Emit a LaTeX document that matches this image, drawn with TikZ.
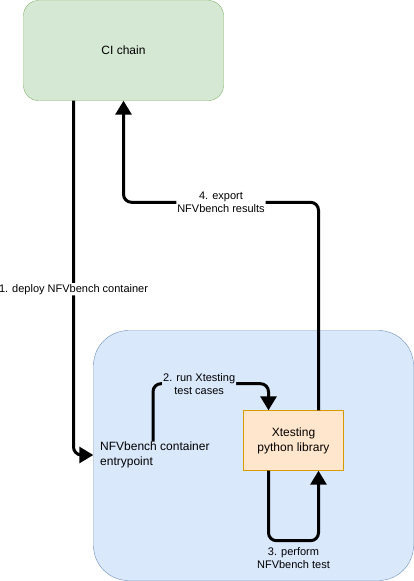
\documentclass[tikz,border=0pt]{standalone}
\usepackage{fontspec}
\setmainfont{Liberation Sans}
\usetikzlibrary{arrows.meta}
\definecolor{cigreen}{HTML}{D5E8D4}
\definecolor{cigreenline}{HTML}{82B366}
\definecolor{hostblue}{HTML}{DAE8FC}
\definecolor{hostblueline}{HTML}{6C8EBF}
\definecolor{xtorange}{HTML}{FFE6CC}
\definecolor{xtorangeline}{HTML}{D79B00}
\tikzset{
  flow/.style={line width=3pt, rounded corners=8pt, -{Triangle[length=14pt,width=16pt]}},
  flowlabel/.style={font=\fontsize{11}{13}\selectfont, align=center, inner sep=1pt},
  boxtext/.style={font=\fontsize{12}{15}\selectfont, align=center}
}
\begin{document}
\begin{tikzpicture}[x=1pt,y=-1pt]
  \useasboundingbox (0,0) rectangle (414,581);
  % boxes
  \node[boxtext, draw=hostblueline, fill=hostblue, rounded corners=35pt,
        minimum width=320pt, minimum height=250pt] (host) at (253.5,455.5) {};
  \node[boxtext, draw=cigreenline, fill=cigreen, rounded corners=15pt,
        minimum width=200pt, minimum height=100pt] (ci) at (123.5,50.5) {CI chain};
  \node[boxtext, draw=xtorangeline, fill=xtorange,
        minimum width=100pt, minimum height=60pt] (xt) at (293.5,440.5) {Xtesting\\python library};
  \node[boxtext, align=left, anchor=west, inner sep=0pt] (entry) at (100,455) {NFVbench container\\entrypoint};
  % arrows
  \draw[flow] ([xshift=-50pt]ci.south) |- (host.west |- entry.west)
    node[flowlabel, pos=0.266, fill=white] {1. deploy NFVbench container};
  \draw[flow] ([xshift=53pt]entry.north west) -- ++(0,-58) -| ([xshift=-25pt]xt.north)
    node[flowlabel, pos=0.2, fill=hostblue] {2. run Xtesting\\test cases};
  \draw[flow] ([xshift=-25pt]xt.south) -- ++(0,70) -| ([xshift=25pt]xt.south)
    node[flowlabel, pos=0.25, below=4pt] {3. perform\\NFVbench test};
  \draw[flow] ([xshift=25pt]xt.north) -- ++(0,-208) -| (ci.south)
    node[flowlabel, pos=0.25, fill=white] {4. export\\NFVbench results};
\end{tikzpicture}
\end{document}
